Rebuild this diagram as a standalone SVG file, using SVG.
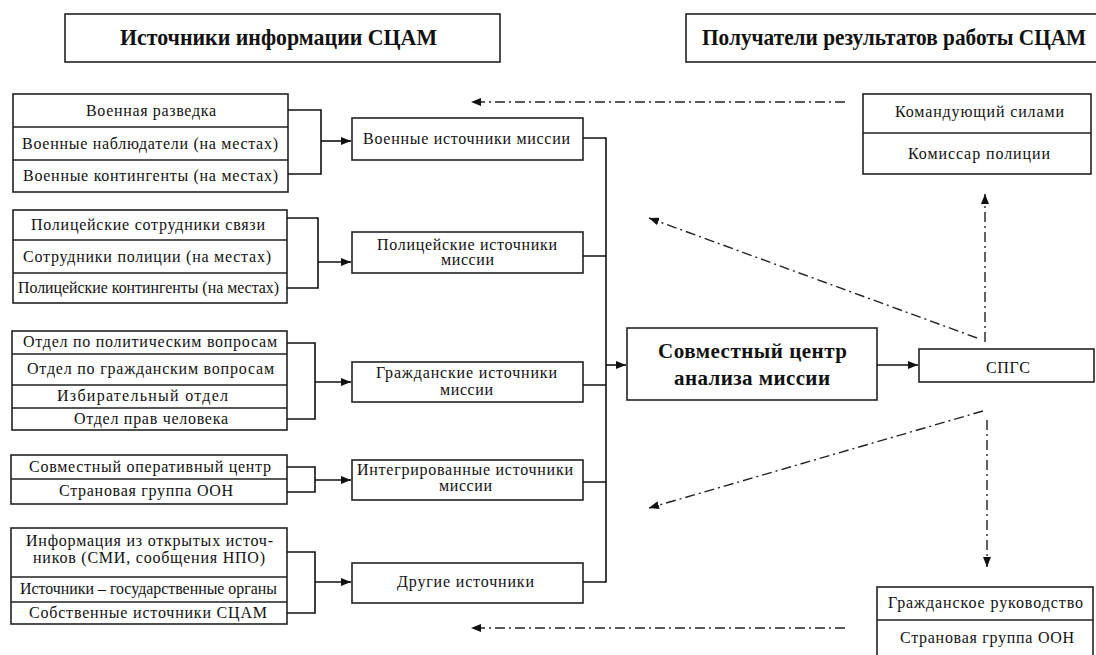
<svg xmlns="http://www.w3.org/2000/svg" width="1096" height="655" viewBox="0 0 1096 655">
<style>
.box{fill:#fff;stroke:#222;stroke-width:1.6}
.div{stroke:#222;stroke-width:1.4;fill:none}
.t{font-family:"Liberation Serif","Times New Roman",serif;font-size:16px;fill:#111}
.h{font-family:"Liberation Serif","Times New Roman",serif;font-size:24px;font-weight:bold;fill:#111}
.b{font-family:"Liberation Serif","Times New Roman",serif;font-size:21px;font-weight:bold;fill:#111}
.ln{stroke:#111;stroke-width:1.6;fill:none}
.dd{stroke:#222;stroke-width:1.4;fill:none;stroke-dasharray:10 4 2 4}
</style>
<defs>
<marker id="ah" viewBox="0 0 10 8" refX="10" refY="4" markerWidth="10" markerHeight="8" markerUnits="userSpaceOnUse" orient="auto">
<path d="M0,0 L10,4 L0,8 z" fill="#111"/>
</marker>
</defs>
<rect width="1096" height="655" fill="#fff"/>

<g id="header-sources">
<rect class="box" x="65" y="14" width="435" height="48"/>
<text class="h" transform="scale(0.85,1)" x="141.2" y="45" textLength="373" lengthAdjust="spacingAndGlyphs">Источники информации СЦАМ</text>
</g>
<g id="header-recipients">
<rect class="box" x="686" y="14" width="420" height="48"/>
<text class="h" transform="scale(0.85,1)" x="825.9" y="45" textLength="452" lengthAdjust="spacingAndGlyphs">Получатели результатов работы СЦАМ</text>
</g>

<g id="src-military">
<rect class="box" x="13" y="94" width="275" height="98"/>
<path class="div" d="M13,127 H288 M13,160 H288"/>
<text class="t" x="86" y="116" textLength="130">Военная разведка</text>
<text class="t" x="22" y="149" textLength="256">Военные наблюдатели (на местах)</text>
<text class="t" x="23" y="181" textLength="255">Военные контингенты (на местах)</text>
</g>
<g id="src-police">
<rect class="box" x="13" y="210" width="274" height="93"/>
<path class="div" d="M13,240 H287 M13,273 H287"/>
<text class="t" x="31" y="230" textLength="234">Полицейские сотрудники связи</text>
<text class="t" x="23" y="262" textLength="248">Сотрудники полиции (на местах)</text>
<text class="t" x="18" y="293" textLength="261" lengthAdjust="spacingAndGlyphs">Полицейские контингенты (на местах)</text>
</g>
<g id="src-civil">
<rect class="box" x="12" y="331" width="275" height="99"/>
<path class="div" d="M12,354 H287 M12,385 H287 M12,408 H287"/>
<text class="t" x="23" y="347" textLength="254">Отдел по политическим вопросам</text>
<text class="t" x="27" y="374" textLength="247">Отдел по гражданским вопросам</text>
<text class="t" x="57" y="401" textLength="171">Избирательный отдел</text>
<text class="t" x="74" y="424" textLength="154">Отдел прав человека</text>
</g>
<g id="src-integrated">
<rect class="box" x="11" y="455" width="276" height="49"/>
<path class="div" d="M11,479 H287"/>
<text class="t" x="29" y="472" textLength="242">Совместный оперативный центр</text>
<text class="t" x="59" y="496" textLength="174">Страновая группа ООН</text>
</g>
<g id="src-other">
<rect class="box" x="11" y="528" width="276" height="96"/>
<path class="div" d="M11,577 H287 M11,602 H287"/>
<text class="t" x="26" y="546" textLength="247">Информация из открытых источ-</text>
<text class="t" x="33" y="563" textLength="232">ников (СМИ, сообщения НПО)</text>
<text class="t" x="20" y="594" textLength="257" lengthAdjust="spacingAndGlyphs">Источники – государственные органы</text>
<text class="t" x="29" y="618" textLength="238">Собственные источники СЦАМ</text>
</g>

<g id="mission-military">
<rect class="box" x="352" y="118" width="231" height="42"/>
<text class="t" x="363" y="144" textLength="207">Военные источники миссии</text>
</g>
<g id="mission-police">
<rect class="box" x="352" y="232" width="231" height="41"/>
<text class="t" x="377" y="250" textLength="180">Полицейские источники</text>
<text class="t" x="441" y="265" textLength="53">миссии</text>
</g>
<g id="mission-civil">
<rect class="box" x="352" y="362" width="231" height="40"/>
<text class="t" x="376" y="378" textLength="181">Гражданские источники</text>
<text class="t" x="440" y="395" textLength="53">миссии</text>
</g>
<g id="mission-integrated">
<rect class="box" x="352" y="460" width="231" height="40"/>
<text class="t" x="357" y="475" textLength="216">Интегрированные источники</text>
<text class="t" x="439" y="491" textLength="53">миссии</text>
</g>
<g id="mission-other">
<rect class="box" x="352" y="563" width="231" height="40"/>
<text class="t" x="397" y="587" textLength="137">Другие источники</text>
</g>

<g id="center">
<rect class="box" x="627" y="328" width="250" height="72" stroke-width="2"/>
<text class="b" x="658" y="358" textLength="189">Совместный центр</text>
<text class="b" x="674" y="385" textLength="156">анализа миссии</text>
</g>
<g id="spgs">
<rect class="box" x="919" y="349" width="175" height="33"/>
<text class="t" x="986" y="373" textLength="44">СПГС</text>
</g>
<g id="recipients-top">
<rect class="box" x="863" y="94" width="228" height="80"/>
<path class="div" d="M863,133 H1091"/>
<text class="t" x="895" y="117" textLength="169">Командующий силами</text>
<text class="t" x="908" y="159" textLength="142">Комиссар полиции</text>
</g>
<g id="recipients-bottom">
<rect class="box" x="877" y="587" width="216" height="80"/>
<path class="div" d="M877,620 H1093"/>
<text class="t" x="888" y="608" textLength="195">Гражданское руководство</text>
<text class="t" x="900" y="643" textLength="174">Страновая группа ООН</text>
</g>

<g id="connectors">
<path class="ln" d="M288,110 H321 V174 H288"/>
<path class="ln" d="M321,141 H351" marker-end="url(#ah)"/>
<path class="ln" d="M287,218 H318 V288 H287"/>
<path class="ln" d="M318,262 H351" marker-end="url(#ah)"/>
<path class="ln" d="M287,343 H315 V419 H287"/>
<path class="ln" d="M315,382 H351" marker-end="url(#ah)"/>
<path class="ln" d="M287,467 H315 V492 H287"/>
<path class="ln" d="M315,480 H351" marker-end="url(#ah)" stroke-width="2.2"/>
<path class="ln" d="M287,552 H315 V613 H287"/>
<path class="ln" d="M315,582 H351" marker-end="url(#ah)"/>
<path class="ln" d="M583,138 H606 V582 H583 M583,256 H606 M583,385 H606 M583,482 H606"/>
<path class="ln" d="M606,365 H626" marker-end="url(#ah)"/>
<path class="ln" d="M877,365 H918" marker-end="url(#ah)"/>
<path class="dd" d="M845,102 H471" marker-end="url(#ah)"/>
<path class="dd" d="M985,342 V194" marker-end="url(#ah)"/>
<path class="dd" d="M977,338 L649,218" marker-end="url(#ah)"/>
<path class="dd" d="M983,411 L649,508" marker-end="url(#ah)"/>
<path class="dd" d="M987,420 V567" marker-end="url(#ah)"/>
<path class="dd" d="M845,628 H471" marker-end="url(#ah)"/>
</g>
</svg>
